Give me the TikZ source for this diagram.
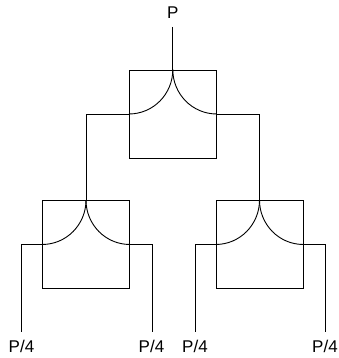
\documentclass[tikz,border=0pt]{standalone}
\usepackage{fontspec}
\setmainfont{Liberation Sans}
\begin{document}
\begin{tikzpicture}[x=1pt,y=1pt,
  box/.style={draw, line width=0.9pt, minimum width=87pt, minimum height=88pt, inner sep=0pt},
  wire/.style={line width=0.9pt},
  lab/.style={inner sep=0pt, font=\fontsize{17}{20}\selectfont}]
\useasboundingbox (0,0) rectangle (339,358);
% boxes
\node[box] (T) at (172.8,244) {};
\node[box] (L) at (86,113.5) {};
\node[box] (R) at (259.5,113.5) {};
% labels
\node[lab] (P) at (172.8,345) {P};
\node[lab] (a1) at (21.5,11.5) {P/4};
\node[lab] (a2) at (151.5,11.5) {P/4};
\node[lab] (a3) at (195,11.5) {P/4};
\node[lab] (a4) at (325,11.5) {P/4};
% lead ends
\coordinate (pin) at (172.8,331);
\coordinate (e1) at (21.5,26);
\coordinate (e2) at (152,26);
\coordinate (e3) at (195,26);
\coordinate (e4) at (325,26);
% top
\draw[wire] (pin) -- (T.north);
\draw[wire] (T.north) to[out=-90,in=0] (T.west);
\draw[wire] (T.north) to[out=-90,in=180] (T.east);
\draw[wire] (T.west) -| (L.north);
\draw[wire] (T.east) -| (R.north);
% left
\draw[wire] (L.north) to[out=-90,in=0] (L.west);
\draw[wire] (L.north) to[out=-90,in=180] (L.east);
\draw[wire] (L.west) -| (e1);
\draw[wire] (L.east) -| (e2);
% right
\draw[wire] (R.north) to[out=-90,in=0] (R.west);
\draw[wire] (R.north) to[out=-90,in=180] (R.east);
\draw[wire] (R.west) -| (e3);
\draw[wire] (R.east) -| (e4);
\end{tikzpicture}
\end{document}
